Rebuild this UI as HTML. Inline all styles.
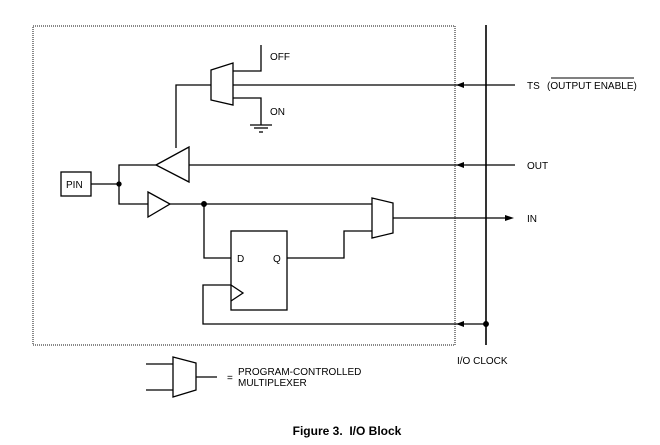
<!DOCTYPE html>
<html><head><style>body{margin:0;background:#fff}svg{display:block}</style></head>
<body>
<svg width="660" height="445" viewBox="0 0 660 445" xmlns="http://www.w3.org/2000/svg" font-family="Liberation Sans, sans-serif" font-size="10" fill="none" stroke="#000" stroke-width="1.3">
<rect x="33" y="26" width="422" height="319" stroke="#888" stroke-width="2" stroke-dasharray="1,1"/>
<line x1="486" y1="25" x2="486" y2="345" stroke-width="1.6"/>
<polygon points="211,70 233,63 233,105 211,100"/>
<polyline points="233,71 261,71 261,45"/>
<polyline points="233,98 261,98 261,125"/>
<line x1="250" y1="125" x2="272" y2="125"/>
<line x1="254" y1="128" x2="268" y2="128"/>
<line x1="259" y1="132" x2="263" y2="132"/>
<line x1="233" y1="85" x2="515" y2="85"/>
<polyline points="211,85 176,85 176,148"/>
<polygon points="156,165 189,147 189,182"/>
<line x1="189" y1="165" x2="515" y2="165"/>
<polyline points="156,165 119,165 119,204 148,204"/>
<rect x="61" y="172" width="30" height="24"/>
<line x1="91" y1="184" x2="119" y2="184"/>
<circle cx="119" cy="184" r="2" fill="#000"/>
<polygon points="148,192 170,204 148,217"/>
<line x1="170" y1="204" x2="372" y2="204"/>
<circle cx="204" cy="204" r="2.3" fill="#000"/>
<polygon points="372,198 393,203 393,233 372,238"/>
<line x1="393" y1="218" x2="508" y2="218"/>
<polyline points="204,204 204,258 231,258"/>
<rect x="231" y="231" width="56" height="79"/>
<polyline points="231,285 243,293 231,301"/>
<polyline points="287,258 344,258 344,231 372,231"/>
<polyline points="231,285 203,285 203,324 486,324"/>
<circle cx="486" cy="324" r="2.3" fill="#000"/>
<g fill="#000" stroke="none">
<polygon points="456,85 464,82 464,88"/>
<polygon points="456,165 464,162 464,168"/>
<polygon points="456,324 464,321 464,327"/>
<polygon points="514,218 505,215 505,221"/>
</g>
<polygon points="173,357 196,363 196,390 173,397"/>
<line x1="146" y1="364" x2="173" y2="364"/>
<line x1="146" y1="390" x2="173" y2="390"/>
<line x1="196" y1="377" x2="217" y2="377"/>
<g fill="#000" stroke="none">
<text x="270" y="60">OFF</text>
<text x="270" y="115">ON</text>
<text x="66" y="188">PIN</text>
<text x="237" y="262">D</text>
<text x="273" y="262">Q</text>
<text x="527" y="89">TS</text>
<text x="547" y="89">(OUTPUT ENABLE)</text>
<text x="527" y="169">OUT</text>
<text x="527" y="222">IN</text>
<text x="457" y="364">I/O CLOCK</text>
<text x="227" y="381">=</text>
<text x="238" y="375">PROGRAM-CONTROLLED</text>
<text x="238" y="386">MULTIPLEXER</text>
<text x="347" y="435" font-weight="bold" font-size="12" text-anchor="middle" xml:space="preserve">Figure 3.  I/O Block</text>
</g>
<line x1="551" y1="78" x2="634" y2="78" stroke-width="1"/>
</svg>
</body></html>
